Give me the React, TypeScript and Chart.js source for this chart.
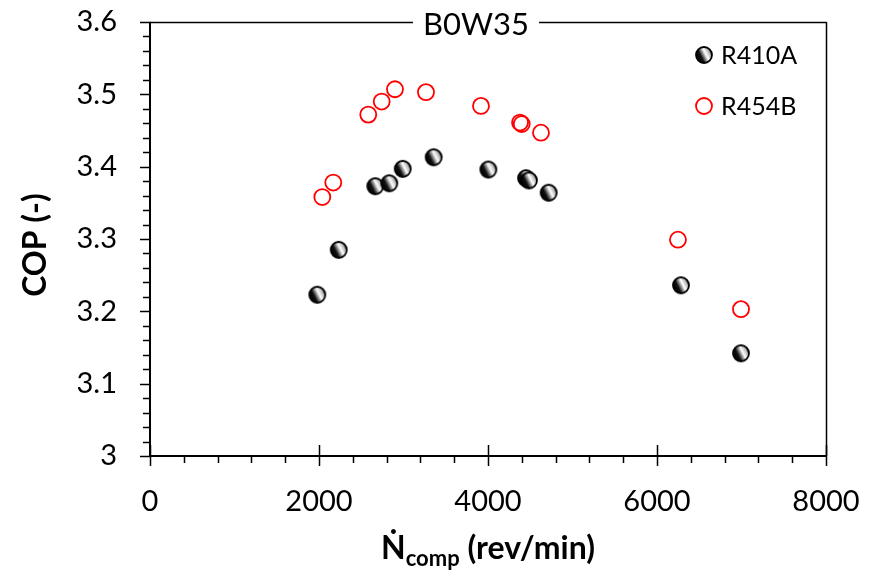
import React, { useEffect, useRef } from 'react';
import { Chart, registerables } from 'chart.js';

Chart.register(...registerables);

const titleText = 'B0W35';
const yTitleText = 'COP (-)';
const xTitleMain = 'Ṅ';
const xTitleSub = 'comp';
const xTitleRest = ' (rev/min)';
const r410aLabel = 'R410A';
const r454bLabel = 'R454B';

const r410aSpeed = [1980, 2233, 2666, 2832, 2991, 3357, 4004, 4450, 4485, 4718, 6284, 6994];
const r410aCop = [3.223, 3.285, 3.373, 3.377, 3.397, 3.413, 3.396, 3.384, 3.381, 3.364, 3.236, 3.142];
const r454bSpeed = [2039, 2169, 2583, 2742, 2899, 3266, 3917, 4379, 4399, 4627, 6248, 6994];
const r454bCop = [3.358, 3.378, 3.472, 3.49, 3.507, 3.503, 3.484, 3.461, 3.459, 3.447, 3.299, 3.203];

const xMin = 0;
const xMax = 8000;
const xMajor = 2000;
const xMinor = 400;
const yMin = 3;
const yMax = 3.6;
const yMajor = 0.1;
const yMinor = 0.02;

const FONT = 'Lato, "Open Sans", "DejaVu Sans", sans-serif';

function makeSphere(): HTMLCanvasElement {
  const size = 20;
  const c = document.createElement('canvas');
  c.width = size;
  c.height = size;
  const g = c.getContext('2d')!;
  const cx = size / 2;
  const cy = size / 2;
  const r = 8;
  const grad = g.createLinearGradient(cx - r * 0.9, cy + r * 0.45, cx + r * 0.9, cy - r * 0.45);
  grad.addColorStop(0, '#000');
  grad.addColorStop(0.3, '#111');
  grad.addColorStop(0.62, '#fff');
  grad.addColorStop(0.85, '#bbb');
  grad.addColorStop(1, '#333');
  g.beginPath();
  g.arc(cx, cy, r, 0, Math.PI * 2);
  g.fillStyle = grad;
  g.fill();
  g.lineWidth = 1.8;
  g.strokeStyle = '#000';
  g.stroke();
  return c;
}

export default function App() {
  const ref = useRef<HTMLCanvasElement | null>(null);

  useEffect(() => {
    document.body.style.margin = '0';
    const canvas = ref.current;
    if (!canvas) return;
    const sphere = makeSphere();

    const deco = {
      id: 'deco',
      afterDraw(chart: any) {
        const ctx = chart.ctx as CanvasRenderingContext2D;
        const xs = chart.scales.x;
        const ys = chart.scales.y;
        const { left, right, top, bottom } = chart.chartArea;
        ctx.save();
        ctx.strokeStyle = '#000';
        ctx.fillStyle = '#000';

        // Ticks
        ctx.lineWidth = 1.5;
        ctx.beginPath();
        for (let v = xMin; v <= xMax + 1e-6; v += xMinor) {
          const px = Math.round(xs.getPixelForValue(v)) + 0.5;
          const isMajor = Math.abs(v / xMajor - Math.round(v / xMajor)) < 1e-6;
          if (isMajor) {
            ctx.moveTo(px, bottom - 11);
            ctx.lineTo(px, bottom + 10);
          } else {
            ctx.moveTo(px, bottom);
            ctx.lineTo(px, bottom + 7);
          }
        }
        const nY = Math.round((yMax - yMin) / yMinor);
        for (let i = 0; i <= nY; i++) {
          const v = yMin + i * yMinor;
          const py = Math.round(ys.getPixelForValue(v)) + 0.5;
          const isMajor = i % Math.round(yMajor / yMinor) === 0;
          if (isMajor) {
            ctx.moveTo(left - 10, py);
            ctx.lineTo(left + 1, py);
          } else {
            ctx.moveTo(left - 7, py);
            ctx.lineTo(left, py);
          }
        }
        ctx.stroke();

        // Frame
        ctx.lineWidth = 1.5;
        ctx.beginPath();
        ctx.moveTo(left, top + 0.5);
        ctx.lineTo(right + 0.5, top + 0.5);
        ctx.moveTo(right + 0.5, top);
        ctx.lineTo(right + 0.5, bottom);
        ctx.stroke();
        ctx.lineWidth = 2;
        ctx.beginPath();
        ctx.moveTo(left, top);
        ctx.lineTo(left, bottom);
        ctx.moveTo(left - 1, bottom);
        ctx.lineTo(right + 1, bottom);
        ctx.stroke();

        // Title with white background over the top line
        ctx.font = `31px ${FONT}`;
        ctx.textAlign = 'center';
        ctx.textBaseline = 'middle';
        const tw = ctx.measureText(titleText).width;
        const tx = 476;
        ctx.fillStyle = '#fff';
        ctx.fillRect(tx - tw / 2 - 10, top - 6, tw + 20, 12);
        ctx.fillStyle = '#000';
        ctx.fillText(titleText, tx, top + 3);

        // Y title
        ctx.save();
        ctx.translate(36, (top + bottom) / 2 + 6);
        ctx.rotate(-Math.PI / 2);
        ctx.font = `bold 32px ${FONT}`;
        ctx.textAlign = 'center';
        ctx.textBaseline = 'middle';
        ctx.fillText(yTitleText, 0, 0);
        ctx.restore();

        // X title with subscript
        const big = `bold 32px ${FONT}`;
        const small = `bold 22px ${FONT}`;
        ctx.textAlign = 'left';
        ctx.textBaseline = 'alphabetic';
        ctx.font = big;
        const w1 = ctx.measureText(xTitleMain).width;
        const w3 = ctx.measureText(xTitleRest).width;
        ctx.font = small;
        const w2 = ctx.measureText(xTitleSub).width;
        const total = w1 + w2 + w3;
        let cx = (left + right) / 2 - total / 2;
        const baseY = 559;
        ctx.font = big;
        ctx.fillText(xTitleMain, cx, baseY);
        cx += w1;
        ctx.font = small;
        ctx.fillText(xTitleSub, cx, baseY + 7);
        cx += w2;
        ctx.font = big;
        ctx.fillText(xTitleRest, cx, baseY);

        // Legend
        ctx.font = `25px ${FONT}`;
        ctx.textBaseline = 'middle';
        ctx.textAlign = 'left';
        ctx.drawImage(sphere, 704 - sphere.width / 2, 55 - sphere.height / 2);
        ctx.fillText(chart.data.datasets[0].label, 721, 56);
        ctx.beginPath();
        ctx.arc(704, 106, 8, 0, Math.PI * 2);
        ctx.strokeStyle = '#ff0000';
        ctx.lineWidth = 1.8;
        ctx.stroke();
        ctx.fillStyle = '#000';
        ctx.fillText(chart.data.datasets[1].label, 721, 107);

        ctx.restore();
      },
    };

    const chart = new Chart(canvas, {
      type: 'scatter',
      data: {
        datasets: [
          {
            label: r410aLabel,
            data: r410aSpeed.map((x, i) => ({ x, y: r410aCop[i] })),
            pointStyle: sphere as any,
            pointRadius: 9,
            showLine: false,
          },
          {
            label: r454bLabel,
            data: r454bSpeed.map((x, i) => ({ x, y: r454bCop[i] })),
            pointStyle: 'circle',
            pointRadius: 8,
            borderColor: '#ff0000',
            backgroundColor: 'rgba(0,0,0,0)',
            borderWidth: 1.8,
            showLine: false,
          },
        ],
      },
      options: {
        responsive: false,
        animation: false,
        layout: { padding: { top: 22, right: 45, left: 0, bottom: 0 } },
        plugins: {
          legend: { display: false },
          tooltip: { enabled: false },
          title: { display: false },
        },
        scales: {
          x: {
            type: 'linear',
            min: xMin,
            max: xMax,
            grid: { display: false, drawTicks: false },
            border: { display: false },
            ticks: {
              stepSize: xMajor,
              padding: 28,
              color: '#000',
              font: { family: FONT, size: 29 },
              maxRotation: 0,
              callback: (v: any) => String(v),
            },
            afterFit: (s: any) => {
              s.height = 116;
              s.paddingLeft = 0;
              s.paddingRight = 0;
            },
          },
          y: {
            type: 'linear',
            min: yMin,
            max: yMax,
            grid: { display: false, drawTicks: false },
            border: { display: false },
            ticks: {
              stepSize: yMajor,
              padding: 33,
              color: '#000',
              font: { family: FONT, size: 29 },
              callback: (v: any) => String(Number(Number(v).toFixed(1))),
            },
            afterFit: (s: any) => {
              s.width = 150;
              s.paddingTop = 0;
              s.paddingBottom = 0;
            },
          },
        },
      },
      plugins: [deco],
    });
    return () => chart.destroy();
  }, []);

  return <canvas ref={ref} width={871} height={572} style={{ display: 'block' }} />;
}
